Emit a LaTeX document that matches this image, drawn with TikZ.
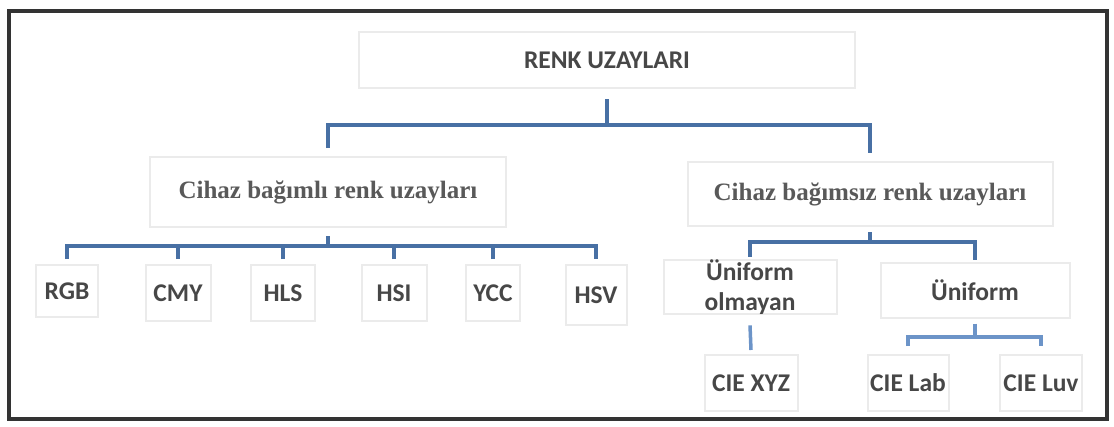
\documentclass[tikz,border=0pt]{standalone}
\usepackage{fontspec}
\setmainfont{Liberation Serif}
\newfontfamily\carlito{Carlito}
\usepackage{tikz}
\usetikzlibrary{calc}
\definecolor{linkblue}{RGB}{72,112,164}
\definecolor{linklight}{RGB}{108,148,200}
\tikzset{box/.style={draw=black!8, line width=2pt, fill=white, inner sep=0pt},
  sanslbl/.style={font=\carlito\bfseries\fontsize{25.5}{30}\selectfont, text=black!72},
  seriflbl/.style={font=\bfseries\fontsize{25}{29}\selectfont, text=black!65},
  link/.style={draw=linkblue, line width=4pt},
  linklt/.style={draw=linklight, line width=3.5pt}}

\begin{document}
\begin{tikzpicture}[x=1pt,y=-1pt]
\useasboundingbox (0,0) rectangle (1114,426);
\draw [black!80,line width=4pt] (9,11) rectangle (1107,419);
% top level
\node [box,sanslbl,minimum width=496pt,minimum height=56pt] (renk) at (607,60) {RENK UZAYLARI};
\node [box,seriflbl,minimum width=356pt,minimum height=70pt] (bagimli) at (328,192) {Cihaz bağımlı renk uzayları};
\node [box,seriflbl,minimum width=365pt,minimum height=64pt] (bagimsiz) at (870,194) {Cihaz bağımsız renk uzayları};
% device dependent spaces
\node [box,sanslbl,minimum width=62pt,minimum height=52pt] (rgb) at (67,291) {RGB};
\node [box,sanslbl,minimum width=65pt,minimum height=56pt] (cmy) at (178,293) {CMY};
\node [box,sanslbl,minimum width=64pt,minimum height=56pt] (hls) at (283,293) {HLS};
\node [box,sanslbl,minimum width=65pt,minimum height=56pt] (hsi) at (394,293) {HSI};
\node [box,sanslbl,minimum width=54pt,minimum height=56pt] (ycc) at (493,293) {YCC};
\node [box,sanslbl,minimum width=61pt,minimum height=60pt] (hsv) at (596,295) {HSV};
% device independent spaces
\node [box,sanslbl,align=center,minimum width=173pt,minimum height=52pt] (unolmayan) at (750,287) {Üniform\\olmayan};
\node [box,sanslbl,minimum width=189pt,minimum height=55pt] (uniform) at (975,290) {Üniform};
\node [box,sanslbl,minimum width=93pt,minimum height=56pt] (ciexyz) at (751,383) {CIE XYZ};
\node [box,sanslbl,minimum width=81pt,minimum height=56pt] (cielab) at (908,383) {CIE Lab};
\node [box,sanslbl,minimum width=82pt,minimum height=56pt] (cieluv) at (1041,383) {CIE Luv};
% connectors
\coordinate (bar1) at (611,125);
\coordinate (bar2) at (329,246);
\coordinate (bar3) at (872,242);
\coordinate (bar4) at (977,337);
\draw [link] ([yshift=-10pt]renk.south) -- (renk.south |- bar1);
\draw [link] ([yshift=8pt]bagimli.north) |- (bar1) -| ([yshift=8pt]bagimsiz.north);
\draw [link] ([yshift=-8pt]bagimli.south) -- (bagimli.south |- bar2);
\draw [link] ([yshift=5pt]rgb.north) |- (bar2) -| ([yshift=5pt]hsv.north);
\foreach \n in {cmy,hls,hsi,ycc}
  \draw [link] ([yshift=5pt]\n.north) -- (\n.north |- bar2);
\draw [link] ([yshift=-5pt]bagimsiz.south) -- (bagimsiz.south |- bar3);
\draw [link] ([yshift=2pt]unolmayan.north) |- (bar3) -| ([yshift=2pt]uniform.north);
\draw [linklt] ([yshift=-10pt]unolmayan.south) -- ([yshift=4pt]ciexyz.north);
\draw [linklt] ([yshift=-5pt]uniform.south) -- (uniform.south |- bar4);
\draw [linklt] ([yshift=8pt]cielab.north) |- (bar4) -| ([yshift=8pt]cieluv.north);
\end{tikzpicture}
\end{document}
